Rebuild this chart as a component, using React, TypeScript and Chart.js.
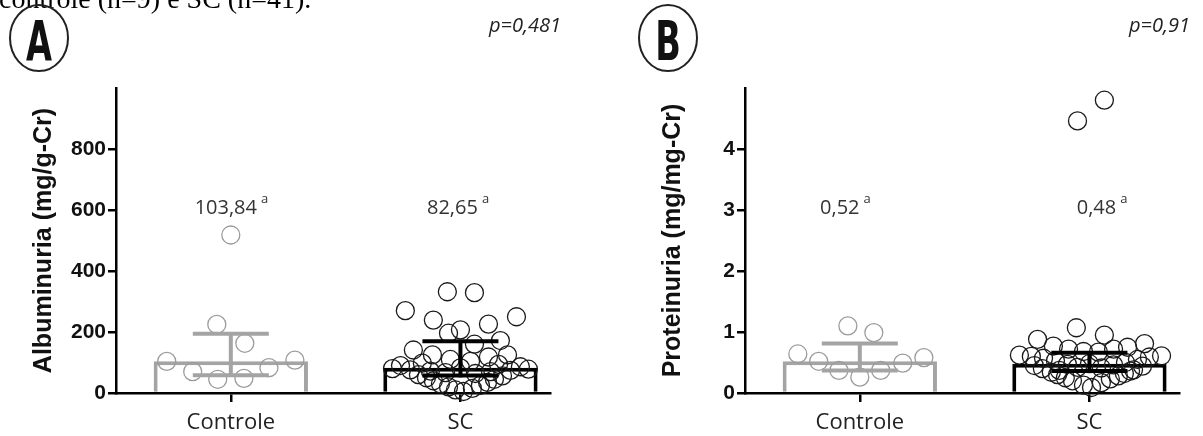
import React, { useEffect, useRef } from 'react';
import { Chart, registerables } from 'chart.js';

Chart.register(...registerables);

// ---------- shared ----------
const caption = 'controle (n=9) e SC (n=41).';
const categories = ['Controle', 'SC'];

// ---------- Panel A : Albuminuria ----------
const albYTicks = [0, 200, 400, 600, 800];
const albControle = [518, 225, 163, 103.84, 70, 45, 48, 83, 108];
const albControleJitter = [0, -0.061, 0.061, -0.279, -0.166, -0.057, 0.057, 0.166, 0.279];
const albSC = [332, 329, 270, 250, 239, 226, 207, 196, 172, 160, 141, 125, 125, 118, 110, 104, 98, 94, 90, 86, 82.65,
  80, 78, 76, 74, 72, 70, 67, 64, 60, 56, 50, 45, 40, 35, 30, 25, 20, 15, 10, 5];
const albSCJitter = [-0.057, 0.061, -0.240, 0.244, -0.118, 0.122, 0, -0.052, 0.174, 0.061, -0.205, -0.122, 0.205, 0.122,
  -0.044, 0.044, -0.166, 0.166, -0.261, 0.261, 0, -0.296, 0.296, -0.218, 0.218, -0.131, 0.131, -0.065, 0.065, -0.183,
  0.183, -0.148, 0.148, -0.118, 0.118, -0.087, 0.087, -0.052, 0.052, -0.022, 0.013];
const albMedian = [103.84, 82.65];
const albQ1 = [58, 57];
const albQ3 = [194, 170];
const albMedianText = ['103,84', '82,65'];
const albP = 'p=0,481';

// ---------- Panel B : Proteinuria ----------
const protYTicks = [0, 1, 2, 3, 4];
const protControle = [1.10, 0.99, 0.64, 0.52, 0.37, 0.26, 0.37, 0.49, 0.58];
const protControleJitter = [-0.052, 0.061, -0.270, -0.179, -0.091, 0, 0.091, 0.187, 0.279];
const protSC = [4.80, 4.46, 1.07, 0.95, 0.88, 0.81, 0.77, 0.75, 0.72, 0.72, 0.68, 0.67, 0.62, 0.61, 0.60, 0.59, 0.57,
  0.55, 0.53, 0.50, 0.48, 0.47, 0.46, 0.45, 0.44, 0.42, 0.41, 0.40, 0.38, 0.37, 0.36, 0.34, 0.32, 0.30, 0.28, 0.25,
  0.23, 0.20, 0.17, 0.13, 0.09];
const protSCJitter = [0.065, -0.052, -0.057, 0.065, -0.226, 0.240, -0.157, 0.166, -0.091, 0.105, -0.026, 0.039, -0.305,
  0.314, -0.253, 0.261, -0.200, 0.209, -0.148, 0.157, 0, -0.096, 0.105, -0.240, 0.231, -0.052, 0.052, -0.205, 0.192,
  -0.131, 0.179, -0.166, 0.152, -0.139, 0.126, -0.105, 0.091, -0.074, 0.052, -0.026, 0.009];
const protMedian = [0.52, 0.48];
const protQ1 = [0.37, 0.36];
const protQ3 = [0.81, 0.66];
const protMedianText = ['0,52', '0,48'];
const protP = 'p=0,91';

// ---------- styles ----------
const GREY = '#a4a4a4';
const BLACK = '#000000';
const SANS = '"Liberation Sans", Arial, sans-serif';
const OPEN = '"Open Sans", sans-serif';

const overlayPlugin = {
  id: 'overlay',
  afterDatasetsDraw(chart: any, _a: any, o: any) {
    const { ctx } = chart;
    const x = chart.scales.x;
    const y = chart.scales.y;
    ctx.save();
    o.q1.forEach((lo: number, i: number) => {
      const cx = x.getPixelForValue(i);
      const half = x.getPixelForValue(i + o.capHalf) - cx;
      const yl = y.getPixelForValue(lo);
      const yh = y.getPixelForValue(o.q3[i]);
      ctx.strokeStyle = o.colors[i];
      ctx.lineWidth = 4;
      ctx.lineCap = 'butt';
      ctx.beginPath();
      ctx.moveTo(cx, yl);
      ctx.lineTo(cx, yh);
      ctx.moveTo(cx - half, yl);
      ctx.lineTo(cx + half, yl);
      ctx.moveTo(cx - half, yh);
      ctx.lineTo(cx + half, yh);
      ctx.stroke();
    });
    ctx.restore();
  },
  afterDraw(chart: any, _a: any, o: any) {
    const { ctx } = chart;
    const x = chart.scales.x;
    const y = chart.scales.y;
    ctx.save();
    if (o.caption) {
      ctx.font = `28px "Liberation Serif", serif`;
      ctx.fillStyle = '#000';
      ctx.textAlign = 'left';
      ctx.textBaseline = 'alphabetic';
      ctx.fillText(o.caption, -1, 8);
    }
    ctx.strokeStyle = '#222';
    ctx.lineWidth = 2;
    ctx.beginPath();
    ctx.ellipse(o.badgeX, 38, 29, 33, 0, 0, Math.PI * 2);
    ctx.stroke();
    ctx.save();
    ctx.translate(o.badgeX, 60);
    ctx.scale(0.6, 1);
    ctx.font = `bold 56px "DejaVu Sans", sans-serif`;
    ctx.fillStyle = '#111';
    ctx.textAlign = 'center';
    ctx.textBaseline = 'alphabetic';
    ctx.fillText(o.badge, 0, 0);
    ctx.restore();
    ctx.font = `italic 20px ${OPEN}`;
    ctx.fillStyle = '#222';
    ctx.textAlign = 'right';
    ctx.textBaseline = 'middle';
    ctx.fillText(o.pText, o.pX, 26);
    const ly = y.getPixelForValue(o.labelLevel);
    o.medianText.forEach((t: string, i: number) => {
      const cx = x.getPixelForValue(i) + o.labelDx[i];
      ctx.font = `20px ${OPEN}`;
      ctx.fillStyle = '#333';
      ctx.textAlign = 'center';
      ctx.textBaseline = 'middle';
      ctx.fillText(t, cx, ly);
      const w = ctx.measureText(t).width;
      ctx.font = `13px ${OPEN}`;
      ctx.textAlign = 'left';
      ctx.fillText('a', cx + w / 2 + 4, ly - 9);
    });
    ctx.restore();
  },
};

type Panel = {
  yMax: number;
  yTicks: number[];
  yTitle: string;
  controle: number[];
  controleJitter: number[];
  sc: number[];
  scJitter: number[];
  medians: number[];
  q1: number[];
  q3: number[];
  medianText: string[];
  pText: string;
  badge: string;
  caption?: string;
  labelLevel: number;
  labelDx: number[];
};

function makeChart(canvas: HTMLCanvasElement, p: Panel) {
  const toPts = (vals: number[], jit: number[], cat: number) =>
    vals.map((v, i) => ({ x: cat + jit[i], y: v }));
  return new Chart(canvas, {
    type: 'bar',
    data: {
      datasets: [
        {
          type: 'scatter',
          data: toPts(p.controle, p.controleJitter, 0),
          pointRadius: 9,
          pointBorderWidth: 1.3,
          pointBorderColor: '#9c9c9c',
          pointBackgroundColor: 'rgba(0,0,0,0)',
          clip: false,
          order: 1,
        } as any,
        {
          type: 'scatter',
          data: toPts(p.sc, p.scJitter, 1),
          pointRadius: 9,
          pointBorderWidth: 1.3,
          pointBorderColor: '#1a1a1a',
          pointBackgroundColor: 'rgba(0,0,0,0)',
          clip: false,
          order: 1,
        } as any,
        {
          type: 'bar',
          data: p.medians.map((m, i) => ({ x: i, y: m })),
          backgroundColor: '#ffffff',
          borderColor: [GREY, BLACK],
          borderWidth: 4,
          categoryPercentage: 1,
          barPercentage: 0.672,
          order: 2,
        } as any,
      ],
    },
    options: {
      responsive: false,
      animation: false,
      events: [],
      layout: { padding: { top: 88, right: 24, left: 0, bottom: 0 } },
      plugins: {
        legend: { display: false },
        tooltip: { enabled: false },
        overlay: {
          q1: p.q1,
          q3: p.q3,
          colors: [GREY, BLACK],
          capHalf: 0.1655,
          caption: p.caption,
          badge: p.badge,
          badgeX: 39,
          pText: p.pText,
          pX: 561,
          medianText: p.medianText,
          labelLevel: p.labelLevel,
          labelDx: p.labelDx,
        },
      } as any,
      scales: {
        x: {
          type: 'linear',
          min: -0.5,
          max: 1.39,
          offset: false,
          afterBuildTicks: (s: any) => {
            s.ticks = categories.map((_c, i) => ({ value: i }));
          },
          afterFit: (s: any) => {
            s.height = 43;
          },
          ticks: {
            callback: (_v: any, i: number) => categories[i],
            font: { family: OPEN, size: 22 },
            color: '#222',
            padding: 8,
            maxRotation: 0,
            autoSkip: false,
          },
          grid: { offset: false, drawOnChartArea: false, drawTicks: true, tickLength: 9, color: '#000', lineWidth: 2.5 },
          border: { display: true, color: '#000', width: 2.5 },
        },
        y: {
          type: 'linear',
          min: 0,
          max: p.yMax,
          afterBuildTicks: (s: any) => {
            s.ticks = p.yTicks.map((v) => ({ value: v }));
          },
          afterFit: (s: any) => {
            s.width = 116;
          },
          ticks: {
            callback: (v: any) => String(v),
            font: { family: SANS, size: 21, weight: 'bold' },
            color: '#111',
            padding: 2,
          },
          grid: { drawOnChartArea: false, drawTicks: true, tickLength: 8, color: '#000', lineWidth: 2.5 },
          border: { display: true, color: '#000', width: 2.5 },
          title: {
            display: true,
            text: p.yTitle,
            font: { family: SANS, size: 25, weight: 'bold' },
            color: '#111',
            padding: { top: 29, bottom: 0 },
          },
        },
      },
    } as any,
    plugins: [overlayPlugin as any],
  });
}

export default function App() {
  const refA = useRef<HTMLCanvasElement>(null);
  const refB = useRef<HTMLCanvasElement>(null);

  useEffect(() => {
    const a = makeChart(refA.current!, {
      yMax: 1000,
      yTicks: albYTicks,
      yTitle: 'Albuminuria (mg/g-Cr)',
      controle: albControle,
      controleJitter: albControleJitter,
      sc: albSC,
      scJitter: albSCJitter,
      medians: albMedian,
      q1: albQ1,
      q3: albQ3,
      medianText: albMedianText,
      pText: albP,
      badge: 'A',
      caption,
      labelLevel: 605,
      labelDx: [-5, -8],
    });
    const b = makeChart(refB.current!, {
      yMax: 5,
      yTicks: protYTicks,
      yTitle: 'Proteinuria (mg/mg-Cr)',
      controle: protControle,
      controleJitter: protControleJitter,
      sc: protSC,
      scJitter: protSCJitter,
      medians: protMedian,
      q1: protQ1,
      q3: protQ3,
      medianText: protMedianText,
      pText: protP,
      badge: 'B',
      labelLevel: 3.03,
      labelDx: [-20, 7],
    });
    return () => {
      a.destroy();
      b.destroy();
    };
  }, []);

  return (
    <div
      style={{
        position: 'absolute',
        left: 0,
        top: 0,
        width: 1203,
        height: 436,
        overflow: 'hidden',
        background: '#fff',
      }}
    >
      <canvas ref={refA} width={574} height={436} style={{ position: 'absolute', left: 0, top: 0 }} />
      <canvas ref={refB} width={574} height={436} style={{ position: 'absolute', left: 629, top: 0 }} />
    </div>
  );
}
